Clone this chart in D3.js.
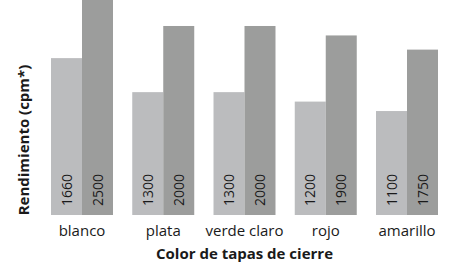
<!DOCTYPE html>
<html>
<head>
<meta charset="utf-8">
<script src="https://cdn.jsdelivr.net/npm/d3@7"></script>
<style>
	body { margin: 0; background: #fff; }
	svg { display: block; }
</style>
</head>
<body>
<div id="chart"></div>
<script>
const categories = ["blanco", "plata", "verde claro", "rojo", "amarillo"];
const seriesKeys = ["a", "b"];
const valuesA = [1660, 1300, 1300, 1200, 1100];
const valuesB = [2500, 2000, 2000, 1900, 1750];
const xTitle = "Color de tapas de cierre";
const yTitle = "Rendimiento (cpm*)";

const width = 457;
const height = 271;
const colors = { a: "#bbbcbe", b: "#9c9d9c" };

const data = categories.map((c, i) => ({ cat: c, a: valuesA[i], b: valuesB[i] }));

// Scales
const x = d3.scaleBand().domain(categories).range([51, 438]).paddingInner(0.237).paddingOuter(0);
const xs = d3.scaleBand().domain(seriesKeys).range([0, x.bandwidth()]);
// the tallest bar runs off the top edge in the original
const y = d3.scaleLinear().domain([0, 2275]).range([215, 0]);

const svg = d3.select("#chart")
	.append("svg")
	.attr("width", width)
	.attr("height", height)
	.attr("font-family", "'Open Sans', sans-serif");

// Bars
const groups = svg.append("g")
	.selectAll("g")
	.data(data)
	.join("g")
	.attr("transform", (d) => `translate(${x(d.cat)},0)`);

const bars = groups.selectAll("g")
	.data((d) => seriesKeys.map((k) => ({ key: k, value: d[k] })))
	.join("g");

bars.append("rect")
	.attr("x", (d) => xs(d.key))
	.attr("y", (d) => y(d.value))
	.attr("width", xs.bandwidth())
	.attr("height", (d) => y(0) - y(d.value))
	.attr("fill", (d) => colors[d.key]);

// Value labels, rotated, at the bottom of each bar
bars.append("text")
	.attr("transform", (d) => `translate(${xs(d.key) + xs.bandwidth() / 2},${y(0) - 9}) rotate(-90)`)
	.attr("dy", "0.36em")
	.attr("font-size", "14px")
	.attr("fill", "#1a1a1a")
	.text((d) => d.value);

// Category axis
svg.append("g")
	.attr("transform", `translate(0,${y(0)})`)
	.call(d3.axisBottom(x).tickSize(0).tickPadding(10))
	.call((g) => g.select(".domain").remove())
	.selectAll(".tick text")
	.attr("font-family", "'Open Sans', sans-serif")
	.attr("font-size", "15px")
	.attr("fill", "#1a1a1a");

// Axis titles
svg.append("text")
	.attr("x", (51 + 438) / 2)
	.attr("y", 259)
	.attr("text-anchor", "middle")
	.attr("font-size", "15px")
	.attr("font-weight", "bold")
	.attr("fill", "#1a1a1a")
	.text(xTitle);

svg.append("text")
	.attr("transform", `translate(29,140) rotate(-90)`)
	.attr("text-anchor", "middle")
	.attr("font-size", "15px")
	.attr("font-weight", "bold")
	.attr("fill", "#1a1a1a")
	.text(yTitle);
</script>
</body>
</html>
